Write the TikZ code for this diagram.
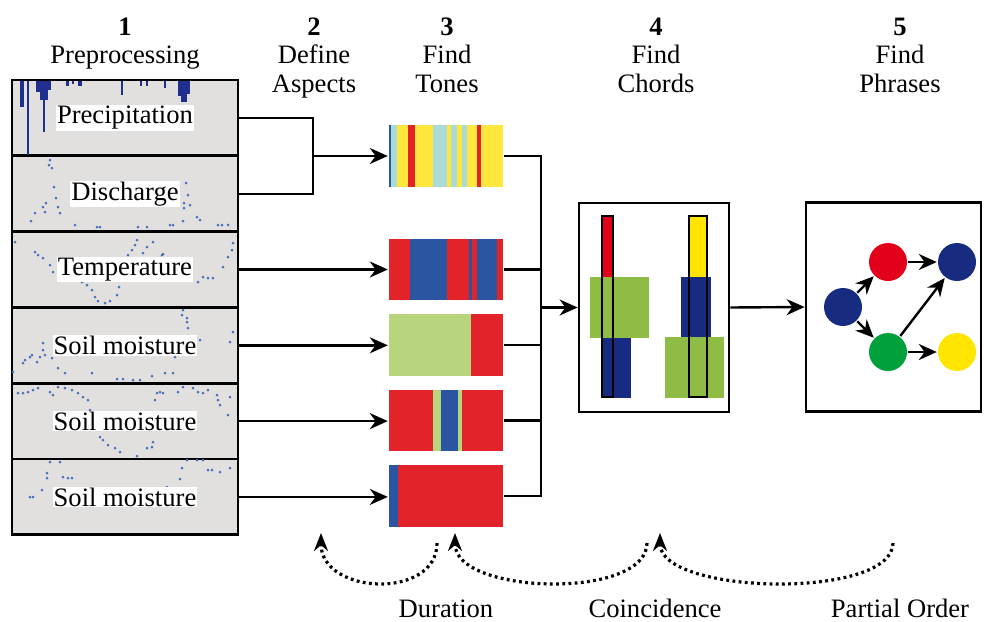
\documentclass[tikz,border=0pt]{standalone}
\usepackage{fontspec}
\setmainfont{Liberation Serif}
\usetikzlibrary{arrows.meta}

\definecolor{panelgray}{HTML}{E1E0DF}
\definecolor{rainblue}{HTML}{1E2F8F}
\definecolor{dotblue}{HTML}{4A70B8}
\definecolor{tred}{HTML}{E3232A}
\definecolor{tblue}{HTML}{2A55A0}
\definecolor{tyellow}{HTML}{FFE63D}
\definecolor{tcyan}{HTML}{A9DAD7}
\definecolor{tgreen}{HTML}{B8D47D}
\definecolor{cred}{HTML}{E2001A}
\definecolor{cgreen}{HTML}{8FBC45}
\definecolor{cblue}{HTML}{172C80}
\definecolor{cyellow}{HTML}{FFE500}
\definecolor{pgreen}{HTML}{00A03A}

\begin{document}
\begin{tikzpicture}[x=0.5pt, y=-0.5pt, line width=1.2pt,
  font=\fontsize{13.3}{14.3}\selectfont,
  >={Stealth[length=9pt, width=8pt]},
  stagehead/.style={align=center, inner sep=0pt, anchor=north},
  series/.style={draw, fill=panelgray, line width=1.35pt, minimum width=113pt, minimum height=37.9pt, inner sep=0pt},
  seriesname/.style={fill=white, inner sep=0.5pt},
  tonebar/.style={minimum width=57pt, minimum height=31pt, inner sep=0pt},
  stagebox/.style={draw, fill=white, line width=1.4pt, inner sep=0pt},
  phrasenode/.style={circle, minimum size=19pt, inner sep=0pt},
  linkarrow/.style={dash pattern=on 1.4pt off 1.7pt, line width=1.6pt, -{Stealth[length=9pt, width=7pt]}},
  obs/.style={fill=dotblue}]
\useasboundingbox (0,0) rectangle (984,621);

\node[stagehead] (h1) at (125,16.5) {\textbf{1}\\Preprocessing};
\node[stagehead] (h2) at (314,16.5) {\textbf{2}\\Define\\Aspects};
\node[stagehead] (h3) at (447,16.5) {\textbf{3}\\Find\\Tones};
\node[stagehead] (h4) at (656,16.5) {\textbf{4}\\Find\\Chords};
\node[stagehead] (h5) at (900,16.5) {\textbf{5}\\Find\\Phrases};

\node[series] (p1) at (125,117.9) {};
\node[series] (p2) at (125,193.7) {};
\node[series] (p3) at (125,269.5) {};
\node[series] (p4) at (125,345.3) {};
\node[series] (p5) at (125,421.1) {};
\node[series] (p6) at (125,496.9) {};

% rainfall bars hanging from the top
\foreach \x/\w/\d in {20/4/107, 27/2/155, 36/4/92, 40/8/100, 43/2/132, 48/3/90, 66/3/86, 72/2/84, 78/4/86,
  121/2/95, 140/2/86, 146/2/86, 164/2/88, 178/4/96, 181/6/102, 187/3/94}
  \fill[rainblue] (\x,81) rectangle ++(\w,\d-81);
% discharge
\foreach \x/\y in {50/160, 49/165, 52/168, 54/187, 56/198, 46/203, 43/207, 58/207, 35/213, 45/212, 60/213, 31/221,
  75/225, 97/227, 100/227, 138/227, 147/227, 170/225, 173/225, 183/221, 186/183, 188/195, 184/203, 184/208,
  190/205, 197/217, 200/220, 218/225, 222/225, 228/225}
  \fill[obs] (\x,\y) circle (1.5);
% temperature
\foreach \x/\y in {15/242, 35/252, 38/255, 43/258, 50/265, 53/272, 82/282, 87/285, 92/290, 95/297, 98/301,
  105/303, 110/301, 117/295, 119/287, 128/255, 132/250, 135/245, 137/240, 143/253, 147/247, 153/242,
  162/255, 163/254, 198/282, 203/277, 208/278, 213/278, 223/267, 228/257, 232/250, 233/243}
  \fill[obs] (\x,\y) circle (1.5);
% soil moisture
\foreach \x/\y in {183/310, 182/315, 187/318, 187/322, 188/328, 43/343, 43/350, 32/355, 30/357, 25/360, 23/363,
  40/357, 45/355, 37/362, 52/358, 13/372, 58/368, 65/373, 92/373, 117/379, 123/379, 133/380, 140/380,
  152/376, 165/373, 173/373, 175/357, 200/340, 230/342, 233/332}
  \fill[obs] (\x,\y) circle (1.5);
\foreach \x/\y in {18/393, 23/393, 28/392, 33/390, 38/388, 50/392, 53/395, 58/387, 65/388, 72/390, 78/393,
  83/397, 88/400, 90/410, 100/437, 103/440, 108/445, 115/448, 120/452, 137/456, 147/448, 152/447, 153/442,
  155/400, 157/393, 160/392, 163/393, 178/392, 183/387, 193/388, 198/392, 203/393, 208/390, 217/395,
  218/400, 220/405, 230/397, 228/415}
  \fill[obs] (\x,\y) circle (1.5);
\foreach \x/\y in {50/462, 60/462, 47/473, 47/478, 63/477, 68/478, 72/478, 30/497, 33/497, 42/490, 167/487,
  182/468, 180/479, 187/460, 197/460, 203/460, 208/470, 212/470, 220/472, 230/468}
  \fill[obs] (\x,\y) circle (1.5);

\node[seriesname] (n1) at (p1) {Precipitation};
\node[seriesname] (n2) at (p2) {Discharge};
\node[seriesname] (n3) at (p3) {Temperature};
\node[seriesname] (n4) at (p4) {Soil moisture};
\node[seriesname] (n5) at (p5) {Soil moisture};
\node[seriesname] (n6) at (p6) {Soil moisture};

% tones
\node[tonebar] (t1) at (446,156) {};
\node[tonebar] (t2) at (446,269.5) {};
\node[tonebar] (t3) at (446,345) {};
\node[tonebar] (t4) at (446,420.5) {};
\node[tonebar] (t5) at (446,496) {};
\foreach \a/\b/\c in {389/391/tblue, 391/397/tcyan, 397/408/tyellow, 408/415/tred, 415/433/tyellow, 433/447/tcyan,
  447/451/tyellow, 451/457/tcyan, 457/462/tyellow, 462/467/tcyan, 467/477/tyellow, 477/481/tred, 481/503/tyellow}
  \fill[\c] (\a,125) rectangle (\b,187);
\foreach \a/\b/\c in {389/410/tred, 410/447/tblue, 447/469/tred, 469/472/tblue, 472/477/tred, 477/497/tblue, 497/503/tred}
  \fill[\c] (\a,239) rectangle (\b,300);
\foreach \a/\b/\c in {389/471/tgreen, 471/503/tred}
  \fill[\c] (\a,314) rectangle (\b,376);
\foreach \a/\b/\c in {389/433/tred, 433/441/tgreen, 441/458/tblue, 458/462/tgreen, 462/503/tred}
  \fill[\c] (\a,390) rectangle (\b,451);
\foreach \a/\b/\c in {389/398/tblue, 398/503/tred}
  \fill[\c] (\a,465) rectangle (\b,527);

\coordinate (fork) at (313,156);
\draw (p1.east) -| (fork) |- (p2.east);
\draw[->] (fork) -- (t1.west);
\draw[->] (p3.east) -- (p3.east -| t2.west);
\draw[->] (p4.east) -- (p4.east -| t3.west);
\draw[->] (p5.east) -- (p5.east -| t4.west);
\draw[->] (p6.east) -- (p6.east -| t5.west);

% chords
\node[stagebox, minimum width=75pt, minimum height=104.5pt] (chords) at (654,307.5) {};
\coordinate (bustop) at (541,156);
\coordinate (busbot) at (t5.east -| bustop);
\draw (t1.east) -- (bustop) -- (busbot) -- (t5.east);
\draw (t2.east) -- (t2.east -| bustop);
\draw (t3.east) -- (t3.east -| bustop);
\draw (t4.east) -- (t4.east -| bustop);
\draw[->] (chords.west -| bustop) -- (chords.west);

\fill[cgreen] (590,277) rectangle (649,338);
\fill[cblue] (602,338) rectangle (631,398);
\fill[cred] (602,216) rectangle (613,277);
\draw[line width=1.4pt] (602,216) rectangle (613,397);
\fill[cblue] (681,277) rectangle (711,337);
\fill[cgreen] (665,337) rectangle (724,398);
\fill[cyellow] (689,216) rectangle (707,277);
\draw[line width=1.4pt] (689,216) rectangle (707,397);

% phrases
\node[stagebox, minimum width=87.5pt, minimum height=104.5pt] (phrases) at (893.5,307) {};
\draw[->] (chords.east) -- (phrases.west);
\node[phrasenode, fill=cblue] (q1) at (843,307) {};
\node[phrasenode, fill=cred] (q2) at (888,262) {};
\node[phrasenode, fill=cblue] (q3) at (957,262) {};
\node[phrasenode, fill=pgreen] (q4) at (888,352) {};
\node[phrasenode, fill=cyellow] (q5) at (957,352) {};
\draw[->] (q1) -- (q2);
\draw[->] (q1) -- (q4);
\draw[->] (q2) -- (q3);
\draw[->] (q4) -- (q3);
\draw[->] (q4) -- (q5);

% properties linking the stages
\coordinate (d1s) at (437,543);
\coordinate (d1e) at (321,533);
\coordinate (d2s) at (647,543);
\coordinate (d2e) at (455,533);
\coordinate (d3s) at (893,543);
\coordinate (d3e) at (660,533);
\draw[linkarrow] (d1s) .. controls +(0,57) and +(0,62) .. (d1e);
\draw[linkarrow] (d2s) .. controls +(0,57) and +(0,62) .. (d2e);
\draw[linkarrow] (d3s) .. controls +(0,57) and +(0,62) .. (d3e);
\node[anchor=base] (l1) at (446,617) {Duration};
\node[anchor=base] (l2) at (655,617) {Coincidence};
\node[anchor=base] (l3) at (900,617) {Partial Order};
\end{tikzpicture}
\end{document}
